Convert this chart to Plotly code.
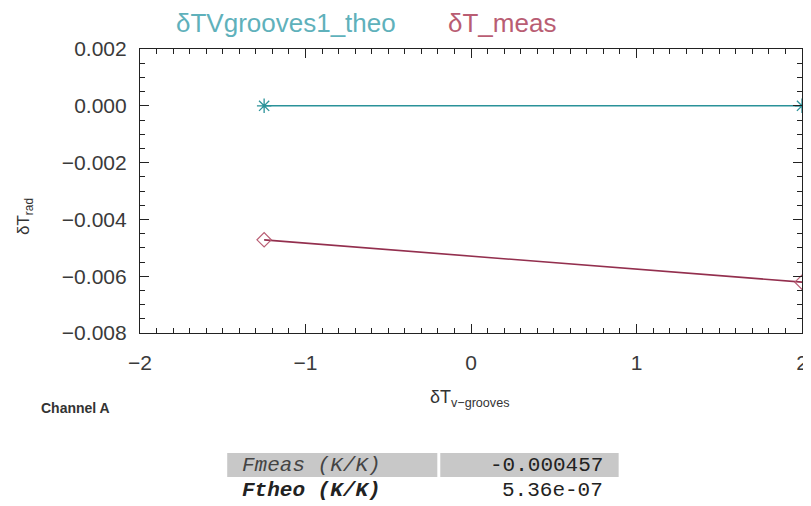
import plotly.graph_objects as go

# ---- data ----
x_theo = [-1.25, 2.0]
y_theo = [0.0, 0.0]
x_meas = [-1.25, 2.0]
y_meas = [-0.00472, -0.00621]
legend_names = ["δTVgrooves1_theo", "δT_meas"]
x_ticks = [-2, -1, 0, 1, 2]
y_ticks = [-0.008, -0.006, -0.004, -0.002, 0.0, 0.002]
table_labels = ["Fmeas (K/K)", "Ftheo (K/K)"]
table_values = ["-0.000457", "5.36e-07"]

OFF = 8  # page body margin
W, H = 811 - OFF, 506 - OFF
# plot area in viewport pixels
PL, PR, PT, PB = 140, 808, 49, 333
L, T = PL - OFF, PT - OFF
R, B = W - (PR - OFF), H - (PB - OFF)
PW, PH = PR - PL, PB - PT


def px(x):
    return (x - PL) / PW


def py(y):
    return (PB - y) / PH


teal = "#2a9299"
teal_txt = "#5fb1bb"
red = "#932f4e"
red_txt = "#b95d73"
sans = "Liberation Sans, Arial"
mono = "Liberation Mono, Courier New, monospace"

fig = go.Figure()
fig.add_trace(go.Scatter(x=x_theo, y=y_theo, mode="lines+markers", name=legend_names[0],
                         line=dict(color=teal, width=1.6),
                         marker=dict(symbol="asterisk-open", size=12, color=teal,
                                     line=dict(color=teal, width=1.3)),
                         cliponaxis=False))
fig.add_trace(go.Scatter(x=x_meas, y=y_meas, mode="lines+markers", name=legend_names[1],
                         line=dict(color=red, width=1.6),
                         marker=dict(symbol="diamond-open", size=11, color=red_txt,
                                     line=dict(color=red_txt, width=1.2)),
                         cliponaxis=False))

axis_common = dict(showline=True, linecolor="#222", linewidth=1.2, mirror="ticks",
                   ticks="inside", ticklen=9, tickcolor="#222", showgrid=False,
                   zeroline=False, ticklabeloverflow="allow",
                   tickfont=dict(family=sans, size=21, color="#3a3a3a"))
fig.update_xaxes(range=[-2, 2], tickvals=x_ticks, ticklabelstandoff=11,
                 minor=dict(ticks="inside", dtick=0.1, ticklen=5, tickcolor="#222"),
                 **axis_common)
fig.update_yaxes(range=[-0.008, 0.002], tickvals=y_ticks, ticklabelstandoff=8,
                 tickformat=".3f",
                 minor=dict(ticks="inside", dtick=0.0005, ticklen=5, tickcolor="#222"),
                 **axis_common)

ann = []
ann.append(dict(x=px(174), y=py(23), xref="paper", yref="paper", text=legend_names[0],
                showarrow=False, xanchor="left", yanchor="middle",
                font=dict(family=sans, size=26, color=teal_txt)))
ann.append(dict(x=px(449), y=py(23), xref="paper", yref="paper", text=legend_names[1],
                showarrow=False, xanchor="left", yanchor="middle",
                font=dict(family=sans, size=26, color=red_txt)))
ann.append(dict(x=px(24), y=py(217), xref="paper", yref="paper", text="δT<sub>rad</sub>",
                showarrow=False, textangle=-90, xanchor="center", yanchor="middle",
                font=dict(family=sans, size=17, color="#333")))
ann.append(dict(x=px(472), y=py(398), xref="paper", yref="paper", text="δT<sub>v−grooves</sub>",
                showarrow=False, xanchor="center", yanchor="middle",
                font=dict(family=sans, size=18, color="#333")))
ann.append(dict(x=px(38), y=py(408), xref="paper", yref="paper", text="<b>Channel A</b>",
                showarrow=False, xanchor="left", yanchor="middle",
                font=dict(family="Liberation Sans Narrow, Liberation Sans, Arial", size=14, color="#333")))

shapes = []
rows_y = [(453, 477), (478, 503)]
fills = ["#c8c8c8", "#ffffff"]
label_fmt = ["<i>{}</i>", "<b><i>{}</i></b>"]
label_col = ["#444", "#222"]
for i, (y0, y1) in enumerate(rows_y):
    shapes.append(dict(type="rect", xref="paper", yref="paper",
                       x0=px(228), x1=px(440), y0=py(y1), y1=py(y0),
                       fillcolor=fills[i], line=dict(width=0), layer="below"))
    shapes.append(dict(type="rect", xref="paper", yref="paper",
                       x0=px(443), x1=px(623), y0=py(y1), y1=py(y0),
                       fillcolor=fills[i], line=dict(width=0), layer="below"))
    ym = (y0 + y1) / 2
    ann.append(dict(x=px(241), y=py(ym), xref="paper", yref="paper",
                    text=label_fmt[i].format(table_labels[i]),
                    showarrow=False, xanchor="left", yanchor="middle",
                    font=dict(family=mono, size=21, color=label_col[i])))
    ann.append(dict(x=px(609), y=py(ym), xref="paper", yref="paper", text=table_values[i],
                    showarrow=False, xanchor="right", yanchor="middle",
                    font=dict(family=mono, size=21, color="#222")))

fig.update_layout(width=W, height=H, margin=dict(l=L, r=R, t=T, b=B, pad=0),
                  plot_bgcolor="white", paper_bgcolor="white", showlegend=False,
                  annotations=ann, shapes=shapes)

fig.write_html("out.html")
